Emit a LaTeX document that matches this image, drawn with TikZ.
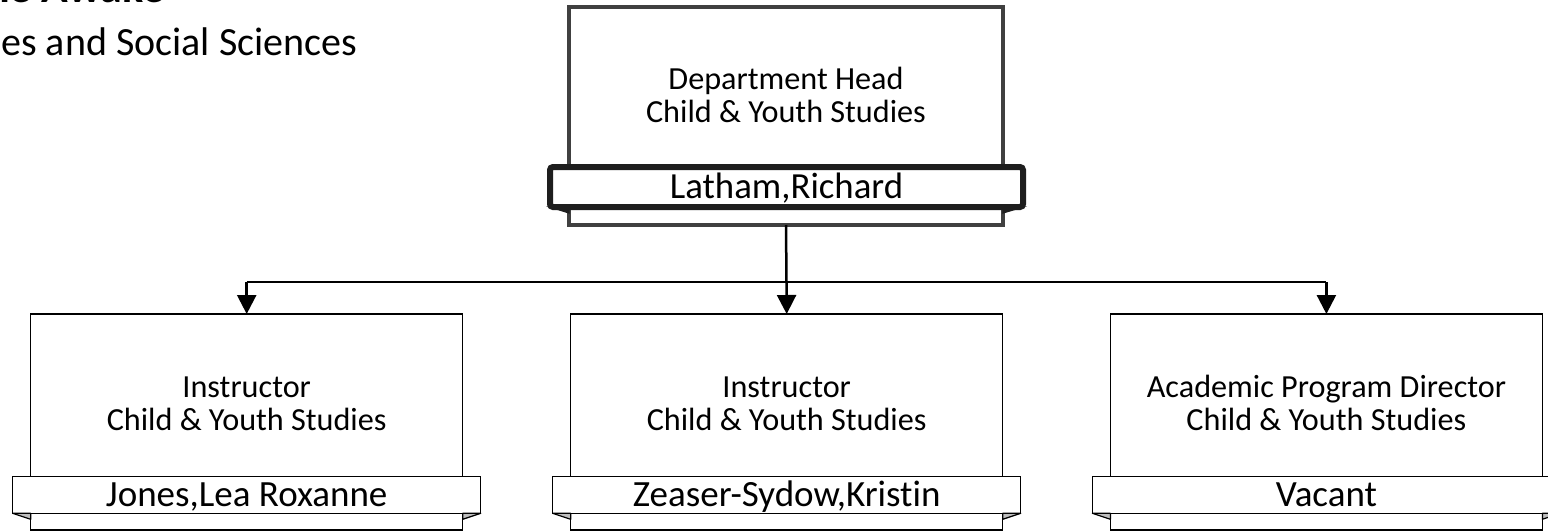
\documentclass[tikz,border=0pt]{standalone}
\usepackage{fontspec}
\setmainfont{Carlito}[Ligatures=NoCommon]
\usetikzlibrary{arrows.meta,calc}
\definecolor{topgray}{RGB}{64,64,64}
\definecolor{bandark}{RGB}{30,30,30}
\definecolor{foldgray}{RGB}{190,190,190}
\begin{document}
\begin{tikzpicture}[x=0.5pt,y=-0.5pt,
  box/.style={draw=black,line width=0.75pt,fill=white,minimum width=216pt,minimum height=108pt,inner sep=0pt,outer sep=0pt},
  topbox/.style={draw=topgray,line width=2pt,fill=white,minimum width=217pt,minimum height=109pt,inner sep=0pt,outer sep=0pt},
  banner/.style={draw=black,line width=0.75pt,fill=white,minimum width=234pt,minimum height=18.3pt,inner sep=0pt,outer sep=0pt,text height=14pt,text depth=2.5pt,font=\fontsize{18.5}{20}\selectfont},
  topbanner/.style={draw=bandark,line width=3pt,rounded corners=1.5pt,fill=white,minimum width=236.5pt,minimum height=20pt,inner sep=0pt,outer sep=0pt,text height=14pt,text depth=2.5pt,font=\fontsize{18.4}{20}\selectfont},
  role/.style={inner sep=0pt,anchor=base,font=\fontsize{16.1}{17}\selectfont},
  conn/.style={line width=1.25pt,draw=black},
  arr/.style={conn,-{Triangle[width=9.5pt,length=9.5pt]}},
  fold/.style={fill=foldgray,draw=black,line width=0.6pt,line join=round},
  topfold/.style={fill=bandark,draw=bandark,line width=0.6pt}]
\useasboundingbox (0,0) rectangle (1548,531);
\fill[white] (0,0) rectangle (1548,531);

% header texts
\node[inner sep=0pt,anchor=base east,font=\fontsize{22}{24}\selectfont\bfseries] (title) at (165,2) {ne Awake};
\node[inner sep=0pt,anchor=base west,font=\fontsize{20}{22}\selectfont] (subtitle) at (1,55) {es and Social Sciences};

% top box
\node[topbox] (top) at (786,116) {};
\node[role] (t1) at (786,89.5) {Department Head};
\node[role] (t2) at (786,122) {Child \& Youth Studies};
\node[topbanner] (tn) at (786.5,187) {Latham,Richard};
\fill[topfold] (tn.south west) -- (tn.south west -| top.west) -- ($(tn.south west -| top.west)+(0,6)$) -- cycle;
\fill[topfold] (tn.south east) -- (tn.south east -| top.east) -- ($(tn.south east -| top.east)+(0,6)$) -- cycle;

% bottom boxes
\foreach \n/\x/\ra/\nm in {b1/246.7/Instructor/{Jones,Lea Roxanne},b2/786.7/Instructor/{Zeaser-Sydow,Kristin},b3/1326.4/Academic Program Director/Vacant}{
  \node[box] (\n) at (\x,422) {};
  \node[role] (\n r1) at (\x,397.5) {\ra};
  \node[role] (\n r2) at (\x,430) {Child \& Youth Studies};
  \node[banner] (\n n) at (\x,495) {\nm};
  \draw[fold] (\n n.south west) -- ($(\n n.south west -| \n.west)+(0,6)$) -- (\n n.south west -| \n.west) -- cycle;
  \draw[fold] (\n n.south east) -- ($(\n n.south east -| \n.east)+(0,6)$) -- (\n n.south east -| \n.east) -- cycle;
}

% connectors
\coordinate (jn) at (786.5,282);
\draw[conn] (top.south) -- (jn);
\draw[conn] (b1.north |- jn) -- (b3.north |- jn);
\draw[arr] (b1.north |- jn) -- (b1.north);
\draw[arr] (jn) -- (b2.north);
\draw[arr] (b3.north |- jn) -- (b3.north);
\end{tikzpicture}
\end{document}
